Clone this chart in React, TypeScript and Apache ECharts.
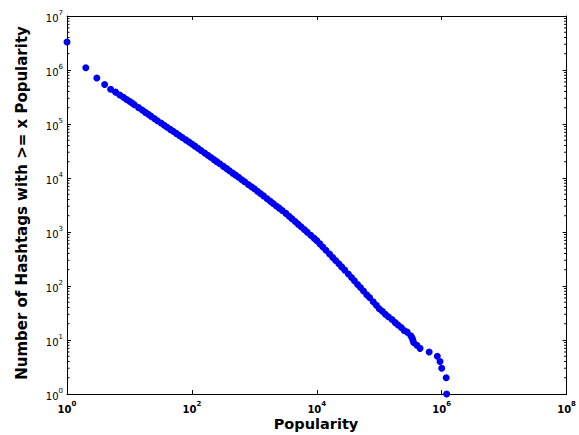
import React, { useEffect, useRef } from 'react';
import * as echarts from 'echarts';

// Popularity (x) and number of hashtags with >= x popularity (y)
const popularity = [
  1, 2, 3, 4, 5, 6, 7, 8, 9, 10, 11, 12,
  14, 16, 18, 20, 22, 25, 28, 32, 36, 40,
  45, 50, 56, 63, 70, 80, 90, 100,
  112, 125, 140, 160, 180, 200, 225, 250, 280, 320,
  360, 400, 450, 500, 560, 630, 700, 800, 900, 1000,
  1120, 1250, 1400, 1600, 1800, 2000, 2250, 2500, 2800, 3200,
  3600, 4000, 4500, 5000, 5600, 6300, 7000, 8000, 9000, 10000,
  11200, 12500, 14000, 16000, 18000, 20000, 22500, 25000, 28000, 32000,
  36000, 40000, 45000, 50000, 56000, 63000, 70000, 80000, 90000, 100000,
  112000, 125000, 140000, 160000, 180000, 200000, 225000, 250000, 280000, 320000,
  335000, 345000, 355000, 400000, 450000, 630000, 850000, 940000, 1000000, 1180000, 1200000,
];
const hashtagCount = [
  3300000, 1100000, 710000, 540000, 440000, 389000, 345000, 312000, 285000, 263000, 244000, 227000,
  201000, 181000, 164000, 151000, 140000, 126000, 115000, 104000, 94600, 87100,
  79600, 73300, 67100, 61200, 56400, 50800, 46300, 42700,
  38900, 35500, 32400, 29000, 26400, 24200, 21900, 20100, 18300, 16400,
  14900, 13600, 12300, 11300, 10300, 9310, 8510, 7600, 6900, 6310,
  5700, 5160, 4670, 4130, 3720, 3380, 3040, 2770, 2500, 2210,
  1960, 1760, 1560, 1400, 1250, 1110, 995, 869, 771, 692,
  603, 527, 459, 390, 338, 297, 258, 226, 197, 167,
  144, 125, 107, 94, 81, 69, 61, 51, 44, 38,
  34, 30, 27, 24, 21, 19, 17, 15, 14, 12,
  11, 10, 9, 8, 7, 6, 5, 4, 3, 2, 1,
];
const xTickExponents = [0, 2, 4, 6, 8];
const yTickExponents = [0, 1, 2, 3, 4, 5, 6, 7];
const minorMultipliers = [2, 3, 4, 5, 6, 7, 8, 9];

const xTitle = 'Popularity';
const yTitle = 'Number of Hashtags with >= x Popularity';

export default function App() {
  const ref = useRef<HTMLDivElement>(null);

  useEffect(() => {
    if (!ref.current) return;
    const chart = echarts.init(ref.current, null, { renderer: 'svg' });

    const points = popularity.map((p, i) => [p, hashtagCount[i]]);
    const minorTicks: number[][] = [];
    yTickExponents.slice(0, -1).forEach((e) =>
      minorMultipliers.forEach((m) => minorTicks.push([1, m * Math.pow(10, e)]))
    );

    const font = '"DejaVu Sans", "Liberation Sans", sans-serif';
    const supFormatter = (allowed: number[]) => (v: number) => {
      const e = Math.round(Math.log10(v));
      if (allowed.indexOf(e) < 0) return '';
      return '{b|10}{s|' + e + '}';
    };

    const axisCommon = {
      type: 'log' as const,
      logBase: 10,
      axisLine: { show: true, lineStyle: { color: '#000', width: 1 } },
      axisTick: { show: true, inside: true, length: 4, lineStyle: { color: '#000', width: 1 } },
      splitLine: { show: false },
      minorTick: { show: false },
      minorSplitLine: { show: false },
    };

    const xLabel = {
      margin: 6,
      color: '#000',
      formatter: supFormatter(xTickExponents),
      rich: {
        b: { fontSize: 10, fontWeight: 'bold', fontFamily: font, color: '#000', lineHeight: 14, verticalAlign: 'bottom' },
        s: { fontSize: 7, fontWeight: 'bold', fontFamily: font, color: '#000', verticalAlign: 'top' },
      },
    };
    const yLabel = {
      margin: 4,
      color: '#000',
      formatter: supFormatter(yTickExponents),
      rich: {
        b: { fontSize: 10, fontFamily: font, color: '#000', lineHeight: 14, verticalAlign: 'bottom' },
        s: { fontSize: 7, fontFamily: font, color: '#000', verticalAlign: 'top' },
      },
    };

    chart.setOption({
      animation: false,
      backgroundColor: '#fff',
      grid: { left: 67, right: 10, top: 16, bottom: 41, containLabel: false },
      xAxis: [
        { ...axisCommon, position: 'bottom', min: 1, max: 1e8, interval: 2, axisLabel: xLabel },
        { ...axisCommon, position: 'top', min: 1, max: 1e8, interval: 2, axisLabel: { show: false } },
      ],
      yAxis: [
        { ...axisCommon, position: 'left', min: 1, max: 1e7, interval: 1, axisLabel: yLabel },
        { ...axisCommon, position: 'right', min: 1, max: 1e7, interval: 1, axisLabel: { show: false } },
      ],
      graphic: [
        {
          type: 'text',
          x: 316,
          y: 424,
          style: {
            text: xTitle,
            font: 'bold 14.5px ' + font,
            fill: '#000',
            textAlign: 'center',
            textVerticalAlign: 'middle',
            align: 'center',
            verticalAlign: 'middle',
          },
        },
        {
          type: 'text',
          x: 22,
          y: 203,
          rotation: Math.PI / 2,
          style: {
            text: yTitle,
            font: 'bold 15px ' + font,
            fill: '#000',
            textAlign: 'center',
            textVerticalAlign: 'middle',
            align: 'center',
            verticalAlign: 'middle',
          },
        },
      ],
      series: [
        {
          type: 'custom',
          xAxisIndex: 0,
          yAxisIndex: 0,
          silent: true,
          encode: { x: 0, y: 1 },
          data: minorTicks,
          renderItem: (params: any, api: any) => {
            const y = api.coord([api.value(0), api.value(1)])[1];
            const cs = params.coordSys;
            return {
              type: 'group',
              children: [
                { type: 'line', shape: { x1: cs.x, y1: y, x2: cs.x + 2.5, y2: y }, style: { stroke: '#000', lineWidth: 1 } },
                { type: 'line', shape: { x1: cs.x + cs.width - 2.5, y1: y, x2: cs.x + cs.width, y2: y }, style: { stroke: '#000', lineWidth: 1 } },
              ],
            };
          },
        },
        {
          type: 'scatter',
          xAxisIndex: 0,
          yAxisIndex: 0,
          data: points,
          symbol: 'circle',
          symbolSize: 7,
          itemStyle: { color: '#0000f0', opacity: 1 },
        },
      ],
    });

    return () => chart.dispose();
  }, []);

  return (
    <div
      ref={ref}
      style={{ position: 'fixed', left: 0, top: 0, width: 579, height: 435, background: '#fff' }}
    />
  );
}
